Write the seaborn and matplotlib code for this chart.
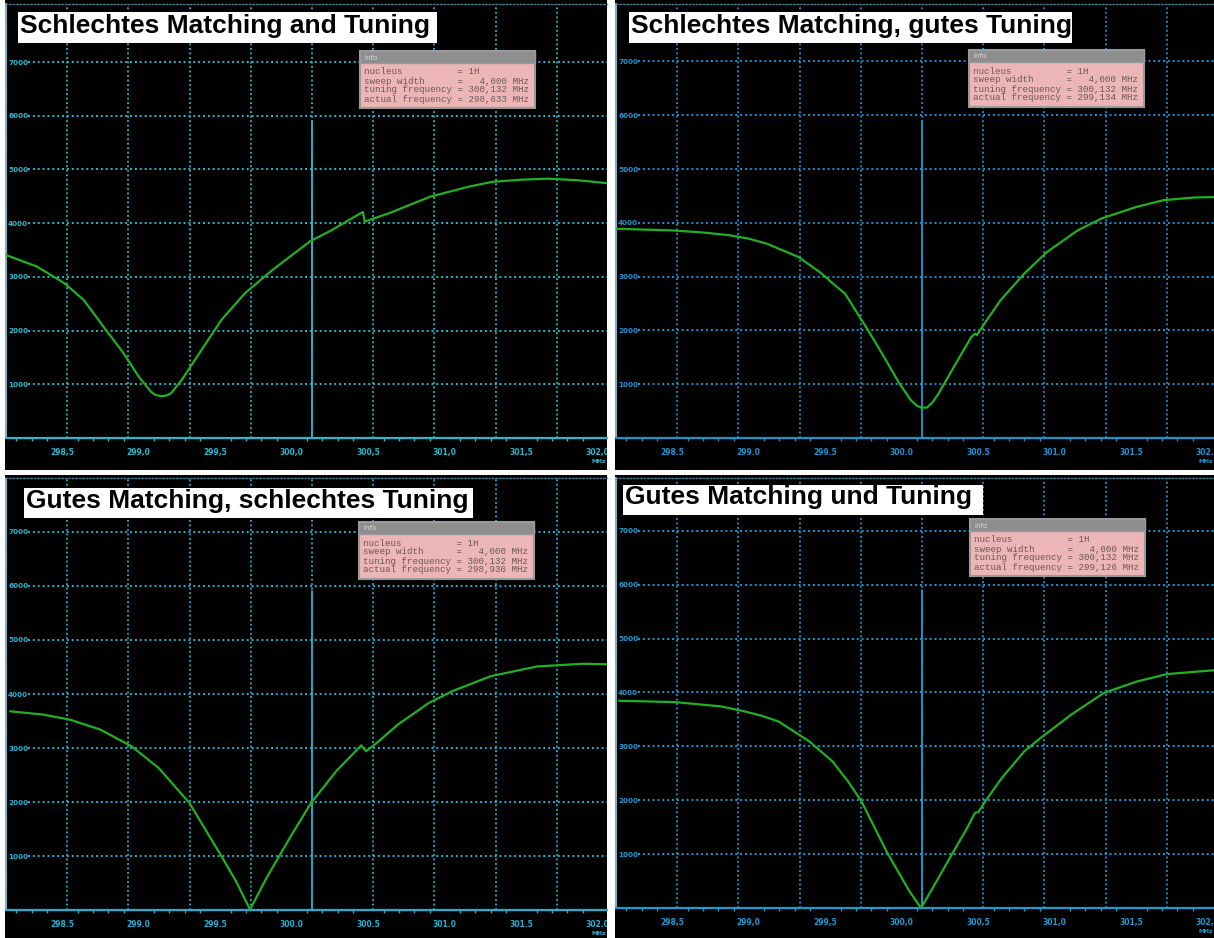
import numpy as np
import pandas as pd
import matplotlib
matplotlib.use("Agg")
import matplotlib.pyplot as plt
from matplotlib.patches import Rectangle
import seaborn as sns

# ---------------- data ----------------
titles = ["Schlechtes Matching and Tuning", "Schlechtes Matching, gutes Tuning",
          "Gutes Matching, schlechtes Tuning", "Gutes Matching und Tuning"]

freq_tl = [298.13, 298.336, 298.515, 298.64, 298.77, 298.90, 299.00, 299.08, 299.11, 299.144,
           299.18, 299.21, 299.28, 299.41, 299.54, 299.695, 299.874, 300.118, 300.26, 300.464,
           300.477, 300.64, 300.90, 301.156, 301.31, 301.50, 301.67, 301.87, 302.08]
signal_tl = [3410, 3190, 2880, 2570, 2070, 1580, 1140, 860, 800, 780,
             790, 830, 1080, 1640, 2200, 2700, 3130, 3660, 3870, 4210,
             4030, 4190, 4490, 4680, 4770, 4810, 4830, 4800, 4740]

freq_tr = [298.12, 298.488, 298.70, 298.87, 299.00, 299.12, 299.22, 299.325, 299.477, 299.55,
           299.63, 299.78, 299.884, 299.985, 300.06, 300.10, 300.125, 300.163, 300.20, 300.24,
           300.34, 300.455, 300.48, 300.49, 300.54, 300.645, 300.80, 300.95, 301.15, 301.305,
           301.533, 301.71, 301.91, 302.085]
signal_tr = [3890, 3860, 3820, 3770, 3705, 3610, 3490, 3365, 3055, 2870,
             2680, 2000, 1505, 1010, 700, 600, 565, 565, 660, 825,
             1320, 1880, 1940, 1910, 2125, 2560, 3055, 3460, 3860, 4080,
             4295, 4420, 4470, 4480]

freq_bl = [298.158, 298.372, 298.55, 298.75, 298.953, 299.13, 299.33, 299.533, 299.634, 299.727,
           299.836, 299.988, 300.126, 300.29, 300.454, 300.485, 300.543, 300.694, 300.896, 301.047,
           301.30, 301.603, 301.906, 302.07, 302.08]
signal_bl = [3680, 3620, 3525, 3340, 3030, 2630, 1985, 1030, 540, 10,
             600, 1340, 1985, 2570, 3050, 2940, 3065, 3435, 3835, 4050,
             4330, 4510, 4560, 4550, 1000]

freq_br = [298.152, 298.516, 298.818, 298.969, 299.08, 299.195, 299.396, 299.547, 299.648, 299.736,
           299.90, 300.05, 300.126, 300.226, 300.326, 300.427, 300.478, 300.50, 300.553, 300.653,
           300.80, 300.905, 301.106, 301.32, 301.534, 301.734, 302.08]
signal_br = [3845, 3820, 3740, 3650, 3570, 3460, 3090, 2720, 2350, 1980,
             1050, 310, 0, 490, 990, 1485, 1765, 1780, 2010, 2410,
             2905, 3150, 3585, 3990, 4200, 4340, 4420]

nucleus = "1H"
sweep_width = "4,000"
tuning_frequency = "300,132"
actual_frequency = ["298,633", "299,134", "298,930", "299,126"]
tuning_mhz = 300.132
sweep_mhz = 4.0
marker_height = 5900
x_tick_values = [298.5, 299.0, 299.5, 300.0, 300.5, 301.0, 301.5, 302.0]
y_tick_values = [1000, 2000, 3000, 4000, 5000, 6000, 7000]

# ---------------- style / layout ----------------
sns.set_theme(style="white")
plt.rcParams["font.family"] = ["DejaVu Sans"]

W, H = 1214, 938
fig = plt.figure(figsize=(W / 100, H / 100), dpi=100)
fig.patch.set_facecolor("white")


def fx(x):
    return x / W


def fy(y):
    return 1 - y / H


PX_PER_MHZ = 153.0
GREEN = "#22b022"

panels = [
    dict(x0=5, x1=607, y0=0, y1=470, axl=6, axt=4, axb=438, ppk=53.7, gc="#2ab8cc", comma=True,
         tbox=(18, 12, 437, 43), tx=20, tbase=33, ibox=(360, 51, 535, 108)),
    dict(x0=615, x1=1214, y0=0, y1=470, axl=616, axt=4, axb=438, ppk=53.8, gc="#1e92d0", comma=False,
         tbox=(629, 12, 1072, 43), tx=631, tbase=33, ibox=(969, 50, 1144, 107)),
    dict(x0=5, x1=607, y0=475, y1=938, axl=6, axt=478, axb=910, ppk=54.0, gc="#24b0d2", comma=False,
         tbox=(24, 488, 473, 518), tx=26, tbase=508, ibox=(359, 522, 534, 579)),
    dict(x0=615, x1=1214, y0=475, y1=938, axl=616, axt=478, axb=908, ppk=53.9, gc="#1c9ad2", comma=True,
         tbox=(623, 485, 983, 515), tx=625, tbase=504, ibox=(970, 519, 1145, 576)),
]
series = [(freq_tl, signal_tl), (freq_tr, signal_tr), (freq_bl, signal_bl), (freq_br, signal_br)]

for cfg, (fr, sg), title, act in zip(panels, series, titles, actual_frequency):
    x0, x1, y0, y1 = cfg["x0"], cfg["x1"], cfg["y0"], cfg["y1"]
    axl, axt, axb = cfg["axl"], cfg["axt"], cfg["axb"]
    gc = cfg["gc"]

    # black screen background
    bg = Rectangle((fx(x0), fy(y1)), (x1 - x0) / W, (y1 - y0) / H,
                   transform=fig.transFigure, facecolor="black",
                   edgecolor="none", zorder=-1)
    fig.add_artist(bg)

    ax = fig.add_axes([fx(axl), fy(axb), (x1 - axl) / W, (axb - axt) / H])
    ax.set_facecolor("black")
    xmin = tuning_mhz - sweep_mhz / 2
    xmax = xmin + (x1 - axl) / PX_PER_MHZ
    ymax = (axb - axt) / cfg["ppk"] * 1000
    ax.set_xlim(xmin, xmax)
    ax.set_ylim(0, ymax)

    dots = (0, (1.0, 1.5))
    for yv in y_tick_values:
        ax.axhline(yv, xmin=0.036, xmax=1, color=gc, lw=1.4, ls=dots, zorder=1)
    for k in range(1, 10):
        ax.axvline(xmin + k * sweep_mhz / 10, color=gc, lw=1.3, ls=dots, zorder=1)
    ax.axvline(tuning_mhz, ymin=0, ymax=marker_height / ymax, color=gc, lw=1.3, zorder=1)

    df = pd.DataFrame({"freq": fr, "signal": sg})
    sns.lineplot(data=df, x="freq", y="signal", ax=ax, color=GREEN, lw=1.6,
                 sort=False, estimator=None, zorder=3)
    ax.set_xlabel("")
    ax.set_ylabel("")

    # axes / ticks
    labels = [f"{v:.1f}" for v in x_tick_values]
    if cfg["comma"]:
        labels = [l.replace(".", ",") for l in labels]
    ax.set_xticks(x_tick_values)
    ax.set_xticklabels(labels)
    ax.set_xticks(np.arange(298.2, xmax, 0.1), minor=True)
    ax.tick_params(axis="x", which="major", direction="out", length=4, width=1,
                   color=gc, pad=3.5, labelsize=5.5, labelcolor=gc)
    ax.tick_params(axis="x", which="minor", direction="out", length=2.5, width=1,
                   color=gc, bottom=True)
    for lbl in ax.get_xticklabels():
        lbl.set_fontweight("bold")
        lbl.set_clip_on(True)
        lbl.set_clip_path(bg)

    ax.set_yticks(y_tick_values)
    ax.set_yticklabels([str(v) for v in y_tick_values])
    ax.tick_params(axis="y", which="both", length=0, pad=-1.5, labelsize=5.2, labelcolor=gc)
    for lbl in ax.get_yticklabels():
        lbl.set_horizontalalignment("left")
        lbl.set_fontweight("bold")

    ax.spines["right"].set_visible(False)
    ax.spines["bottom"].set_color(gc)
    ax.spines["bottom"].set_linewidth(1.6)
    ax.spines["left"].set_color("#7fb0c2")
    ax.spines["left"].set_linewidth(1.5)
    ax.spines["left"].set_linestyle((0, (1.0, 1.0)))
    ax.spines["top"].set_color("#4a7890")
    ax.spines["top"].set_linewidth(1.0)
    ax.spines["top"].set_linestyle(dots)

    fig.text(fx(x1 - 1), fy(axb + 23), "MHz", fontsize=4.4, fontweight="bold",
             color=gc, ha="right", va="center")

    # title box
    bx0, by0, bx1, by1 = cfg["tbox"]
    fig.add_artist(Rectangle((fx(bx0), fy(by1)), (bx1 - bx0) / W, (by1 - by0) / H,
                             transform=fig.transFigure, facecolor="white",
                             edgecolor="none", zorder=5))
    fig.text(fx(cfg["tx"]), fy(cfg["tbase"]), title, fontsize=19, fontweight="bold",
             family=["Liberation Sans", "DejaVu Sans"], color="black",
             ha="left", va="baseline", zorder=6)

    # info box
    ix0, iy0, ix1, iy1 = cfg["ibox"]
    fig.add_artist(Rectangle((fx(ix0), fy(iy1)), (ix1 - ix0) / W, (iy1 - iy0) / H,
                             transform=fig.transFigure, facecolor="#edb6b6",
                             edgecolor="#9a9a9a", lw=1.5, zorder=5))
    fig.add_artist(Rectangle((fx(ix0), fy(iy0 + 12)), (ix1 - ix0) / W, 12 / H,
                             transform=fig.transFigure, facecolor="#8e8e8e",
                             edgecolor="#9a9a9a", lw=1.0, zorder=5))
    fig.text(fx(ix0 + 4), fy(iy0 + 6.5), "Info", fontsize=5, color="#d8d8d8",
             ha="left", va="center", zorder=6)
    lines = [f"{'nucleus':<16} = {nucleus}",
             f"{'sweep width':<16} = {sweep_width + ' MHz':>11}",
             f"{'tuning frequency':<16} = {tuning_frequency + ' MHz':>11}",
             f"{'actual frequency':<16} = {act + ' MHz':>11}"]
    for i, line in enumerate(lines):
        fig.text(fx(ix0 + 4), fy(iy0 + 21 + 9 * i), line, fontsize=6.6,
                 family=["Liberation Mono", "DejaVu Sans Mono"], color="#6e5858",
                 ha="left", va="center", zorder=6)

fig.savefig("out.png", dpi=100, facecolor=fig.get_facecolor())
